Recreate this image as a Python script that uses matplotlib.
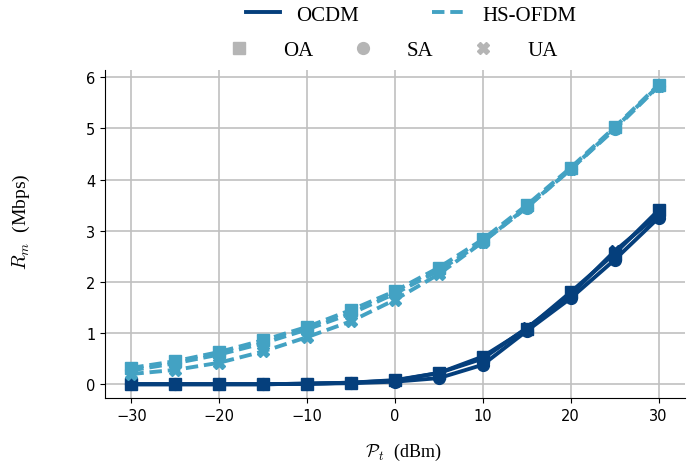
import matplotlib
matplotlib.use("Agg")
import matplotlib.pyplot as plt
from matplotlib.lines import Line2D

# transmit power (dBm)
pt = [-30, -25, -20, -15, -10, -5, 0, 5, 10, 15, 20, 25, 30]

# OCDM rates (Mbps)
ocdm_oa = [0.0, 0.0, 0.0, 0.0, 0.01, 0.03, 0.08, 0.22, 0.54, 1.08, 1.80, 2.55, 3.40]
ocdm_sa = [0.0, 0.0, 0.0, 0.0, 0.01, 0.02, 0.05, 0.12, 0.38, 1.04, 1.68, 2.43, 3.25]
ocdm_ua = [0.0, 0.0, 0.0, 0.0, 0.01, 0.03, 0.07, 0.22, 0.50, 1.10, 1.75, 2.60, 3.32]

# HS-OFDM rates (Mbps)
ofdm_oa = [0.32, 0.45, 0.63, 0.86, 1.12, 1.45, 1.82, 2.28, 2.83, 3.50, 4.23, 5.02, 5.85]
ofdm_sa = [0.27, 0.41, 0.58, 0.80, 1.07, 1.38, 1.77, 2.22, 2.78, 3.45, 4.20, 4.98, 5.82]
ofdm_ua = [0.20, 0.28, 0.42, 0.64, 0.92, 1.23, 1.65, 2.15, 2.78, 3.46, 4.20, 5.00, 5.83]

dark = "#053f7c"
light = "#43a2c3"
gray = "#b5b5b5"
dash = (0, (3.2, 1.5))

plt.rcParams["mathtext.fontset"] = "cm"
serif = "Liberation Serif"

fig = plt.figure(figsize=(6.97, 4.64), dpi=100)
ax = fig.add_axes([0.1506, 0.140, 0.832, 0.707])

for vals, m in [(ocdm_oa, "s"), (ocdm_sa, "o"), (ocdm_ua, "X")]:
    ax.plot(pt, vals, color=dark, lw=2.8, marker=m, ms=8.5, zorder=3)
for vals, m in [(ofdm_oa, "s"), (ofdm_sa, "o"), (ofdm_ua, "X")]:
    ax.plot(pt, vals, color=light, lw=2.8, ls=dash, marker=m, ms=8.5, zorder=3)

ax.set_xlim(-33, 33)
ax.set_ylim(-0.27, 6.14)
ax.set_xticks([-30, -20, -10, 0, 10, 20, 30])
ax.set_yticks(range(7))
ax.tick_params(labelsize=10.5)
ax.grid(color="#c0c0c0", lw=1.2)
ax.set_axisbelow(True)
for s in ["top", "right"]:
    ax.spines[s].set_visible(False)

ax.set_xlabel(r"$\mathcal{P}_t$  (dBm)", fontsize=13, family=serif)
ax.set_ylabel(r"$R_m$  (Mbps)", fontsize=14, family=serif)
ax.xaxis.set_label_coords(0.514, -0.132)
ax.yaxis.set_label_coords(-0.126, 0.54)

h1 = [Line2D([], [], color=dark, lw=2.8),
      Line2D([], [], color=light, lw=2.8, ls=dash)]
fig.legend(h1, ["OCDM", "HS-OFDM"], ncol=2, loc="center",
           bbox_to_anchor=(0.59, 0.966), frameon=False,
           prop={"family": serif, "size": 15}, handlelength=1.6,
           handletextpad=0.8, columnspacing=3.5)
h2 = [Line2D([], [], color=gray, ls="none", marker=m, ms=8.5) for m in ["s", "o", "X"]]
fig.legend(h2, ["OA", "SA", "UA"], ncol=3, loc="center",
           bbox_to_anchor=(0.552, 0.89), frameon=False,
           prop={"family": serif, "size": 15}, handlelength=2.6,
           handletextpad=0.8, columnspacing=1.1)

fig.savefig("out.png", dpi=100)
